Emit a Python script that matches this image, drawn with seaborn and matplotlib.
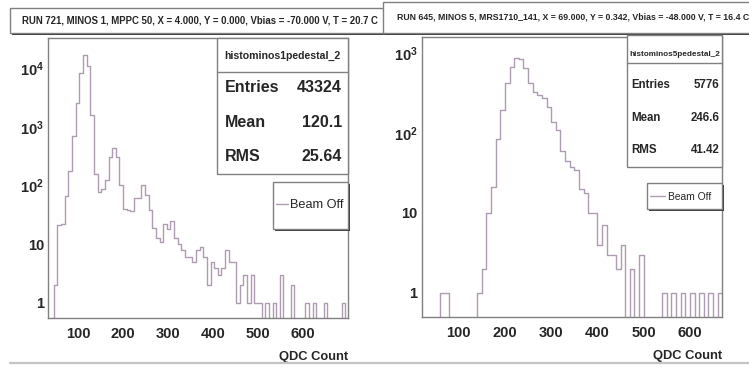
import numpy as np
import pandas as pd
import matplotlib
matplotlib.use("Agg")
import matplotlib.pyplot as plt
import seaborn as sns
from matplotlib.patches import Rectangle
from matplotlib.lines import Line2D
from matplotlib.ticker import FixedLocator, MultipleLocator, LogLocator, NullFormatter, FuncFormatter

# ---------------- data ----------------
# MINOS 1 / MPPC 50 pedestal, run 721 (bin start, bin width, counts per bin)
m1_start, m1_width = 37.5, 8.1
m1_counts = [0, 2, 21, 22, 67, 178, 684, 2510, 8220, 16900,
             10850, 1590, 156, 77, 88, 125, 300, 433, 311, 103,
             40, 38, 37, 61, 61, 103, 69, 38, 19, 13,
             11, 22, 18, 25, 13, 10, 8, 6, 6, 5,
             8, 9, 6, 2, 5, 4, 3, 4, 8, 5,
             5, 1, 2, 3, 1, 3, 1, 1, 0, 1,
             0, 1, 0, 3, 0, 0, 2, 0, 0, 0,
             1, 0, 1, 0, 0, 1, 0, 0, 0, 0,
             1, 0]
m1_title = "RUN 721, MINOS 1, MPPC 50, X = 4.000, Y = 0.000, Vbias = -70.000 V, T = 20.7 C"
m1_name = "histominos1pedestal_2"
m1_stat_labels = ["Entries", "Mean", "RMS"]
m1_stat_values = ["43324", "120.1", "25.64"]

# MINOS 5 / MRS1710_141 pedestal, run 645
m5_start, m5_width = 20.0, 10.0
m5_counts = [0, 0, 0, 0, 1, 1, 0, 0, 0, 0,
             0, 0, 1, 2, 10, 21, 83, 194, 417, 675,
             855, 830, 640, 417, 322, 300, 270, 214, 136, 109,
             60, 45, 38, 34, 20, 18, 10, 10, 4, 7,
             3, 3, 2, 4, 0, 2, 0, 3, 0, 0,
             0, 0, 1, 0, 1, 0, 1, 0, 1, 0,
             1, 0, 1, 0, 1]
m5_title = "RUN 645, MINOS 5, MRS1710_141, X = 69.000, Y = 0.342, Vbias = -48.000 V, T = 16.4 C"
m5_name = "histominos5pedestal_2"
m5_stat_labels = ["Entries", "Mean", "RMS"]
m5_stat_values = ["5776", "246.6", "41.42"]

legend_label = "Beam Off"
x_title = "QDC Count"
x_ticks = [100, 200, 300, 400, 500, 600]

# ---------------- style ----------------
sns.set_theme(style="white")
plt.rcParams["font.family"] = ["Liberation Sans", "DejaVu Sans"]
plt.rcParams["mathtext.fontset"] = "custom"
plt.rcParams["mathtext.rm"] = "Liberation Sans:bold"
plt.rcParams["mathtext.bf"] = "Liberation Sans:bold"
plt.rcParams["mathtext.default"] = "rm"

W, H = 749, 367
fig = plt.figure(figsize=(W / 100, H / 100), dpi=100)
fig.patch.set_facecolor("white")

HIST_COLOR = "#ae9cb2"
FRAME = "#808080"


def fx(px):
    return px / W


def fy(py):
    return 1 - py / H


def log_label(v, pos):
    if v <= 1.01:
        return "1"
    if v < 11:
        return "10"
    return r"$10^{%d}$" % int(round(np.log10(v)))


def draw_panel(rect, start, width, counts, xlim, ylim):
    ax = fig.add_axes([fx(rect[0]), fy(rect[3]), (rect[2] - rect[0]) / W, (rect[3] - rect[1]) / H])
    counts = np.asarray(counts, dtype=float)
    nbins = len(counts)
    table = pd.DataFrame({"qdc": start + width * (np.arange(nbins) + 0.5), "n": counts})
    sns.histplot(data=table, x="qdc", weights="n", bins=nbins,
                 binrange=(start, start + width * nbins), element="step", fill=False,
                 color=HIST_COLOR, linewidth=1.0, label=legend_label, ax=ax)
    ax.set_yscale("log", nonpositive="clip")
    ax.set_xlim(*xlim)
    ax.set_ylim(*ylim)
    ax.set_ylabel("")
    ax.set_xlabel(x_title, loc="right", fontsize=9.3, fontweight="bold", labelpad=7)
    for s in ax.spines.values():
        s.set_visible(True)
        s.set_color(FRAME)
        s.set_linewidth(1.0)
    ax.xaxis.set_major_locator(FixedLocator(x_ticks))
    ax.xaxis.set_minor_locator(MultipleLocator(20))
    ax.yaxis.set_major_locator(LogLocator(base=10))
    ax.yaxis.set_minor_locator(LogLocator(base=10, subs=np.arange(2, 10)))
    ax.yaxis.set_major_formatter(FuncFormatter(log_label))
    ax.yaxis.set_minor_formatter(NullFormatter())
    ax.tick_params(which="both", direction="in", top=False, right=False,
                   color=FRAME, width=0.8)
    ax.tick_params(which="major", length=4.8, labelsize=10.5)
    ax.tick_params(axis="x", which="major", pad=6.5)
    ax.tick_params(axis="y", which="major", pad=3)
    ax.tick_params(which="minor", length=2.4)
    for lab in ax.get_xticklabels() + ax.get_yticklabels():
        lab.set_fontweight("bold")
    return ax


ax1 = draw_panel((48.3, 38.3, 348.3, 318.3), m1_start, m1_width, m1_counts,
                 (33.3, 700), (0.548, 32060))
ax2 = draw_panel((421.7, 37.0, 722.3, 317.0), m5_start, m5_width, m5_counts,
                 (20, 670), (0.5, 1585))


def box(x0, y0, x1, y1, z, shadow=0.0, lw=1.0):
    if shadow:
        fig.patches.append(Rectangle((fx(x0 + shadow), fy(y1 + shadow)), (x1 - x0) / W, (y1 - y0) / H,
                                     transform=fig.transFigure, facecolor="#3a3a3a",
                                     edgecolor="none", zorder=z - 0.1))
    fig.patches.append(Rectangle((fx(x0), fy(y1)), (x1 - x0) / W, (y1 - y0) / H,
                                 transform=fig.transFigure, facecolor="white",
                                 edgecolor=FRAME, linewidth=lw, zorder=z))


def hline(x0, x1, y, z, color=FRAME, lw=1.0):
    fig.lines.append(Line2D([fx(x0), fx(x1)], [fy(y), fy(y)], transform=fig.transFigure,
                            color=color, linewidth=lw, zorder=z))


# title boxes (the right one overlaps the end of the left one)
box(10, 8.3, 395, 32.5, 3, shadow=2.0)
fig.text(fx(22), fy(20.5), m1_title, ha="left", va="center", fontsize=6.9,
         fontweight="bold", zorder=3.5)
box(383, 1.7, 780, 32.5, 4, shadow=2.0)
fig.text(fx(397), fy(17), m5_title, ha="left", va="center", fontsize=6.35,
         fontweight="bold", zorder=4.5)

# statistics boxes
box(217, 38.3, 348.3, 174, 5)
hline(217, 348.3, 71.7, 5.2)
fig.text(fx(282.6), fy(55.5), m1_name, ha="center", va="center", fontsize=7.6,
         fontweight="bold", zorder=6)
for lab, val, yy in zip(m1_stat_labels, m1_stat_values, [88, 122.5, 156]):
    fig.text(fx(225), fy(yy), lab, ha="left", va="center", fontsize=11.5, fontweight="bold", zorder=6)
    fig.text(fx(342), fy(yy), val, ha="right", va="center", fontsize=11.5, fontweight="bold", zorder=6)

box(627.3, 35, 721.7, 166.7, 5)
hline(627.3, 721.7, 63.3, 5.2)
fig.text(fx(674.5), fy(54.5), m5_name, ha="center", va="center", fontsize=5.9,
         fontweight="bold", zorder=6)
for lab, val, yy in zip(m5_stat_labels, m5_stat_values, [85, 118, 150]):
    fig.text(fx(631.5), fy(yy), lab, ha="left", va="center", fontsize=8.3, fontweight="bold", zorder=6)
    fig.text(fx(719.5), fy(yy), val, ha="right", va="center", fontsize=8.3, fontweight="bold", zorder=6)

# legend frames with the legend entry inside
box(272.7, 181.7, 348.3, 229, 5, shadow=2.0)
leg1 = fig.legend(handles=[ax1.lines[0]], labels=[legend_label], loc="center left",
                  bbox_to_anchor=(fx(276), fy(205.5)), bbox_transform=fig.transFigure,
                  frameon=False, fontsize=9.2, handlelength=0.9, handletextpad=0.2,
                  borderpad=0, borderaxespad=0)
leg1.set_zorder(7)
box(647, 183, 722, 209, 5, shadow=2.0)
leg2 = fig.legend(handles=[ax2.lines[0]], labels=[legend_label], loc="center left",
                  bbox_to_anchor=(fx(650), fy(196.5)), bbox_transform=fig.transFigure,
                  frameon=False, fontsize=7.4, handlelength=1.5, handletextpad=0.25,
                  borderpad=0, borderaxespad=0)
leg2.set_zorder(7)

# pad bottom edge
hline(10, 749, 363.3, 2, color="#c4c4c4", lw=1.6)

fig.savefig("out.png", dpi=100, facecolor="white")
